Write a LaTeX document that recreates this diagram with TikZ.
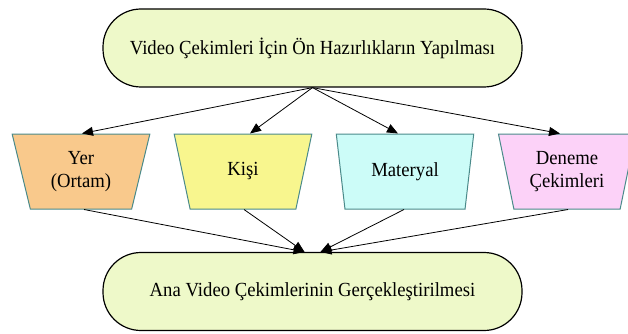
\documentclass[tikz,border=0pt]{standalone}
\usepackage{fontspec}
\setmainfont[FakeStretch=0.935]{Liberation Serif}
\usetikzlibrary{shapes.geometric,arrows.meta,calc}
\definecolor{stadfill}{HTML}{EEF9C9}
\definecolor{fone}{HTML}{F9C98C}
\definecolor{ftwo}{HTML}{F8F68E}
\definecolor{fthree}{HTML}{CCFCF8}
\definecolor{ffour}{HTML}{FCD2F8}
\definecolor{tealborder}{HTML}{4A8A8A}
\tikzset{
  stad/.style={draw=black, line width=1.2pt, fill=stadfill, rounded corners=38pt,
    minimum width=419pt, minimum height=78pt, font=\fontsize{20}{23}\selectfont, inner sep=0pt},
  trap/.style={draw=tealborder, line width=1pt, trapezium, shape border rotate=180,
    trapezium stretches=true, minimum width=138pt, minimum height=75pt,
    trapezium angle=75, inner sep=0pt, align=center,
    font=\fontsize{20}{23}\selectfont},
  conn/.style={draw=black, line width=0.8pt, -{Triangle[length=11pt,width=9pt]}}
}
\begin{document}
\begin{tikzpicture}[x=1pt,y=-1pt]
\useasboundingbox (0,0) rectangle (628,334);
\node[stad] (top) at (312.5,48) {Video Çekimleri İçin Ön Hazırlıkların Yapılması};
\node[stad] (bot) at (312.5,291.5) {Ana Video Çekimlerinin Gerçekleştirilmesi};
\node[trap, fill=fone] (b1) at (81,171.5) {Yer\\(Ortam)};
\node[trap, fill=ftwo] (b2) at (243,171.5) {Kişi};
\node[trap, fill=fthree] (b3) at (405,171.5) {Materyal};
\node[trap, fill=ffour] (b4) at (567,171.5) {Deneme\\Çekimleri};
\draw[conn] (top.south) -- ($(b1.north)+(1,0)$);
\draw[conn] (top.south) -- ($(b2.north)+(7,0)$);
\draw[conn] (top.south) -- ($(b3.north)+(-7,0)$);
\draw[conn] (top.south) -- ($(b4.north)+(-7,0)$);
\draw[conn] ($(b1.south)+(3,0)$) -- ($(bot.north)+(-8,0)$);
\draw[conn] ($(b2.south)+(1,0)$) -- ($(bot.north)+(-8,0)$);
\draw[conn] ($(b3.south)+(-1,0)$) -- ($(bot.north)+(8,0)$);
\draw[conn] ($(b4.south)+(1,0)$) -- ($(bot.north)+(8,0)$);
\end{tikzpicture}
\end{document}
